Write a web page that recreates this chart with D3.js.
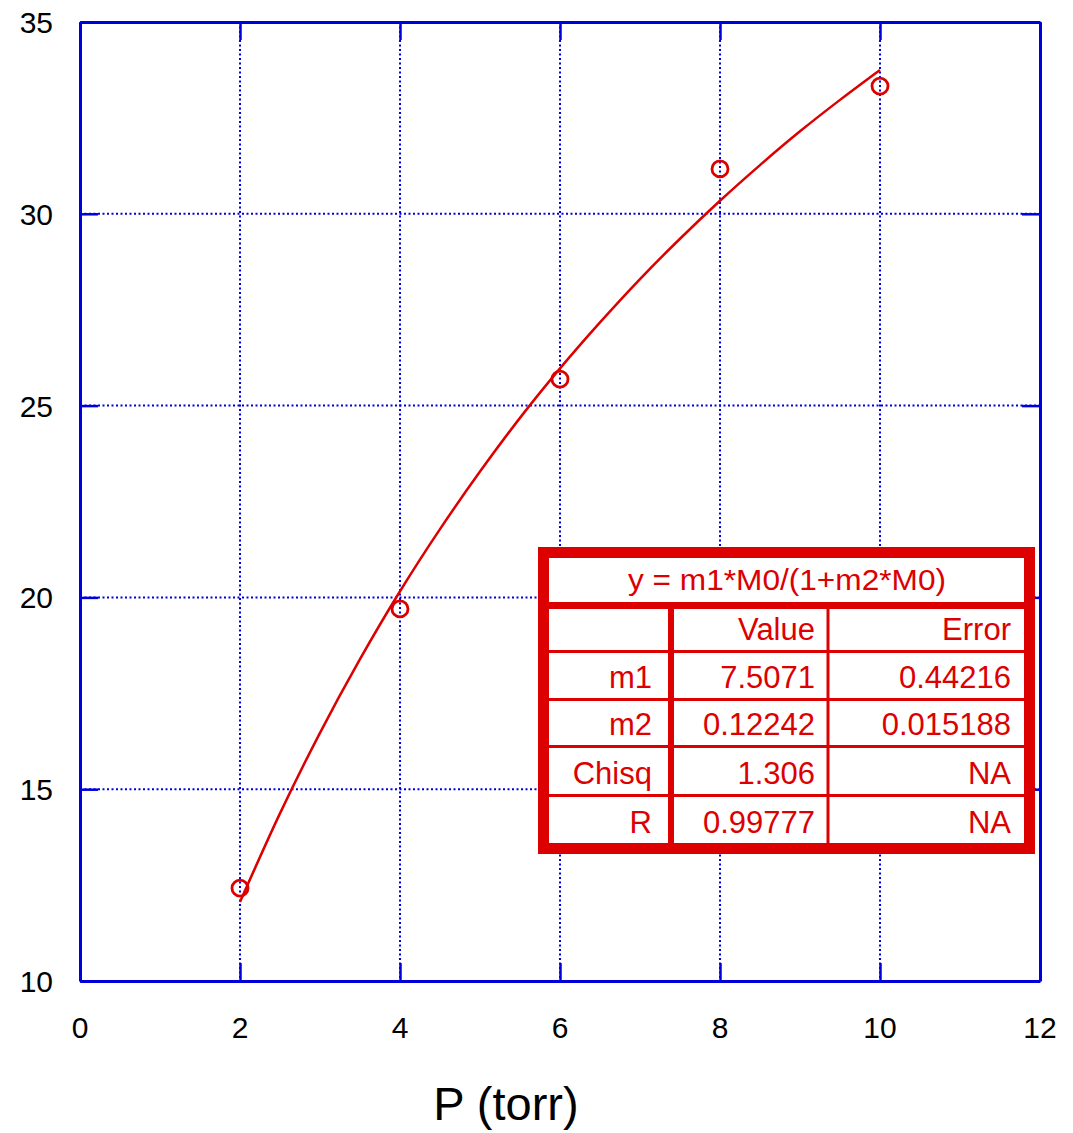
<!DOCTYPE html>
<html>
<head>
<meta charset="utf-8">
<script src="https://cdn.jsdelivr.net/npm/d3@7"></script>
<style>
  body { margin: 0; background: #fff; }
  text { font-family: "Liberation Sans", Arial, sans-serif; }
</style>
</head>
<body>
<div id="chart"></div>
<script>
// measured points
const pressure = [2, 4, 6, 8, 10];
const signal = [12.42, 19.70, 25.69, 31.17, 33.33];

// fitted curve
const fitP = [2, 2.5, 3, 3.5, 4, 4.5, 5, 5.5, 6, 6.5, 7, 7.5, 8, 8.5, 9, 9.5, 10];
const fitY = [12.06, 14.37, 16.47, 18.39, 20.16, 21.78, 23.28, 24.68, 25.97, 27.17, 28.30, 29.35, 30.34, 31.27, 32.15, 32.97, 33.75];

const xTicks = [0, 2, 4, 6, 8, 10, 12];
const yTicks = [10, 15, 20, 25, 30, 35];

const fitTitle = "y = m1*M0/(1+m2*M0)";
const tableRows = [
  ["", "Value", "Error"],
  ["m1", "7.5071", "0.44216"],
  ["m2", "0.12242", "0.015188"],
  ["Chisq", "1.306", "NA"],
  ["R", "0.99777", "NA"]
];

const RED = "#dc0000", BLUE = "#0000dc";
const W = 1073, H = 1133;
const margin = {top: 22, right: 33, bottom: 152, left: 80};
const width = W - margin.left - margin.right,
      height = H - margin.top - margin.bottom;

const svg = d3.select("#chart").append("svg")
    .attr("width", W).attr("height", H);
const g = svg.append("g")
    .attr("transform", "translate(" + margin.left + "," + margin.top + ")");

const x = d3.scaleLinear().domain([0, 12]).range([0, width]);
const y = d3.scaleLinear().domain([10, 35]).range([height, 0]);

// dotted grid
g.selectAll(".gx").data(xTicks.slice(1, -1)).enter().append("line")
    .attr("x1", d => x(d)).attr("x2", d => x(d))
    .attr("y1", 0).attr("y2", height)
    .attr("stroke", BLUE).attr("stroke-width", 2).attr("stroke-dasharray", "2,2.5");
g.selectAll(".gy").data(yTicks.slice(1, -1)).enter().append("line")
    .attr("y1", d => y(d)).attr("y2", d => y(d))
    .attr("x1", 0).attr("x2", width)
    .attr("stroke", BLUE).attr("stroke-width", 2).attr("stroke-dasharray", "2,2.5");

// axes with inward ticks on all four sides
const tk = 18;
g.append("g").attr("transform", "translate(0," + height + ")")
    .call(d3.axisBottom(x).tickValues(xTicks).tickSizeInner(-tk).tickSizeOuter(0).tickFormat(""));
g.append("g")
    .call(d3.axisTop(x).tickValues(xTicks).tickSizeInner(-tk).tickSizeOuter(0).tickFormat(""));
g.append("g")
    .call(d3.axisLeft(y).tickValues(yTicks).tickSizeInner(-tk).tickSizeOuter(0).tickFormat(""));
g.append("g").attr("transform", "translate(" + width + ",0)")
    .call(d3.axisRight(y).tickValues(yTicks).tickSizeInner(-tk).tickSizeOuter(0).tickFormat(""));
g.selectAll(".domain").attr("stroke", BLUE).attr("stroke-width", 3);
g.selectAll(".tick line").attr("stroke", BLUE).attr("stroke-width", 2.5);

// tick labels
g.selectAll(".xl").data(xTicks).enter().append("text")
    .attr("x", d => x(d)).attr("y", height + 57)
    .attr("text-anchor", "middle").attr("font-size", 30).text(d => d);
g.selectAll(".yl").data(yTicks).enter().append("text")
    .attr("x", -27).attr("y", d => y(d) + 11)
    .attr("text-anchor", "end").attr("font-size", 30).text(d => d);

svg.append("text")
    .attr("x", 506).attr("y", 1120)
    .attr("text-anchor", "middle").attr("font-size", 47).text("P (torr)");

// fit curve
const line = d3.line().x((d, i) => x(fitP[i])).y(d => y(d)).curve(d3.curveCatmullRom);
g.append("path").datum(fitY)
    .attr("d", line).attr("fill", "none")
    .attr("stroke", RED).attr("stroke-width", 2.5);

// data markers
g.selectAll(".pt").data(signal).enter().append("circle")
    .attr("cx", (d, i) => x(pressure[i])).attr("cy", d => y(d))
    .attr("r", 8).attr("fill", "none")
    .attr("stroke", RED).attr("stroke-width", 2.8);

// fit result table
const tb = svg.append("g");
tb.append("rect").attr("x", 543.5).attr("y", 552.5).attr("width", 486).attr("height", 296)
    .attr("fill", "#fff").attr("stroke", RED).attr("stroke-width", 11);
tb.append("line").attr("x1", 549).attr("x2", 1024).attr("y1", 605.5).attr("y2", 605.5)
    .attr("stroke", RED).attr("stroke-width", 7);
const rowTop = [609, 653, 701, 748, 797];
const rowBottom = 843;
tb.selectAll(".hl").data(rowTop.slice(1)).enter().append("line")
    .attr("x1", 549).attr("x2", 1024).attr("y1", d => d - 1.5).attr("y2", d => d - 1.5)
    .attr("stroke", RED).attr("stroke-width", 3);
tb.append("line").attr("x1", 671).attr("x2", 671).attr("y1", 605).attr("y2", 849)
    .attr("stroke", RED).attr("stroke-width", 6);
tb.append("line").attr("x1", 828).attr("x2", 828).attr("y1", 605).attr("y2", 849)
    .attr("stroke", RED).attr("stroke-width", 3);

tb.append("text").attr("x", 787).attr("y", 590)
    .attr("text-anchor", "middle").attr("font-size", 29).attr("fill", RED)
    .attr("textLength", 318).attr("lengthAdjust", "spacingAndGlyphs").text(fitTitle);

const colRight = [652, 815, 1011];
tableRows.forEach((row, r) => {
  const bottom = r + 1 < rowTop.length ? rowTop[r + 1] - 3 : rowBottom;
  row.forEach((cell, c) => {
    tb.append("text").attr("x", colRight[c]).attr("y", bottom - 10)
      .attr("text-anchor", "end").attr("font-size", 31).attr("fill", RED).text(cell);
  });
});
</script>
</body>
</html>
